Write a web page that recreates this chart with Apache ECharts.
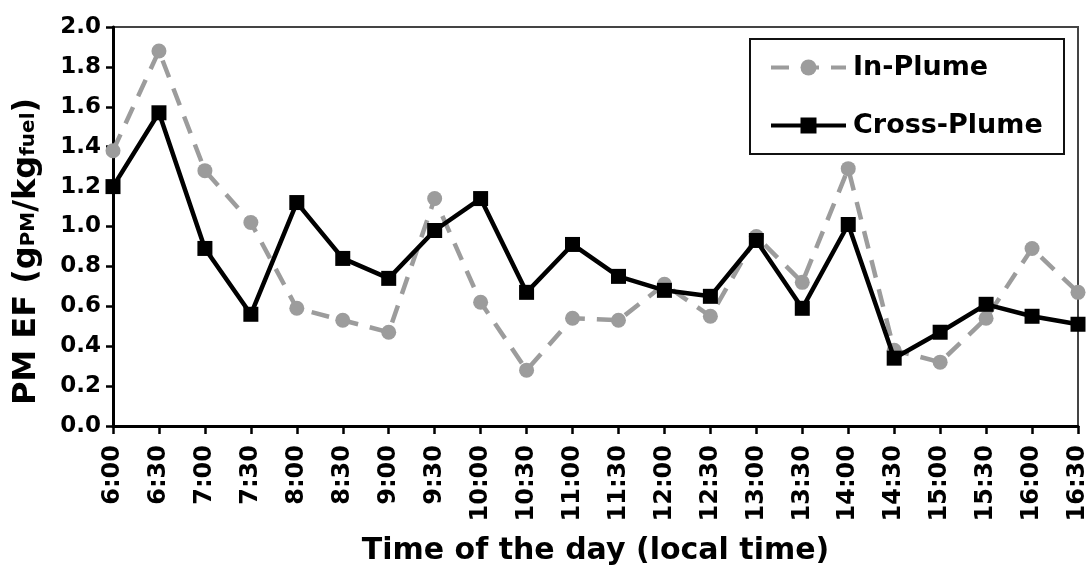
<!DOCTYPE html>
<html>
<head>
<meta charset="utf-8">
<script src="https://cdn.jsdelivr.net/npm/echarts@6/dist/echarts.min.js"></script>
<style>
html,body{margin:0;padding:0;background:#fff;}
#chart{width:1090px;height:577px;}
</style>
</head>
<body>
<div id="chart"></div>
<script>
const categories = ['6:00','6:30','7:00','7:30','8:00','8:30','9:00','9:30','10:00','10:30','11:00','11:30','12:00','12:30','13:00','13:30','14:00','14:30','15:00','15:30','16:00','16:30'];
const inPlume = [1.38, 1.88, 1.28, 1.02, 0.59, 0.53, 0.47, 1.14, 0.62, 0.28, 0.54, 0.53, 0.71, 0.55, 0.95, 0.72, 1.29, 0.38, 0.32, 0.54, 0.89, 0.67];
const crossPlume = [1.20, 1.57, 0.89, 0.56, 1.12, 0.84, 0.74, 0.98, 1.14, 0.67, 0.91, 0.75, 0.68, 0.65, 0.93, 0.59, 1.01, 0.34, 0.47, 0.61, 0.55, 0.51];
const seriesNames = ['In-Plume', 'Cross-Plume'];
const xTitle = 'Time of the day (local time)';
const yTitle = '{a|PM EF (g}{s|PM}{a|/kg}{s|fuel}{a|)}';

const FONT = 'DejaVu Sans';
const chart = echarts.init(document.getElementById('chart'), null, {renderer: 'canvas'});
chart.setOption({
  animation: false,
  backgroundColor: '#fff',
  grid: {left: 113, right: 9, top: 27, bottom: 151, show: true, borderColor: '#444', borderWidth: 2, containLabel: false},
  legend: {
    orient: 'vertical',
    left: 769, top: 54,
    padding: 0,
    itemWidth: 75, itemHeight: 20,
    itemGap: 31,
    textStyle: {fontFamily: FONT, fontWeight: 'bold', fontSize: 27, color: '#000', padding: [0,0,0,2]},
    data: [
      {name: seriesNames[0], lineStyle: {width: 4, color: '#9c9c9c', type: [18, 12]}},
      {name: seriesNames[1], lineStyle: {width: 4, color: '#000'}}
    ]
  },
  graphic: [{
    type: 'rect', left: 749, top: 38, z: 0,
    shape: {width: 314, height: 115},
    style: {fill: '#fff', stroke: '#111', lineWidth: 2}
  }],
  xAxis: {
    type: 'category',
    data: categories,
    boundaryGap: false,
    name: xTitle,
    nameLocation: 'middle',
    nameGap: 110,
    nameTextStyle: {fontFamily: FONT, fontWeight: 'bold', fontSize: 30, color: '#000'},
    axisLine: {lineStyle: {color: '#000', width: 3}},
    axisTick: {show: true, length: 8, lineStyle: {color: '#000', width: 2.5}, alignWithLabel: true},
    axisLabel: {rotate: 90, margin: 19, fontFamily: FONT, fontWeight: 'bold', fontSize: 24, color: '#000', interval: 0},
    splitLine: {show: false}
  },
  yAxis: {
    type: 'value',
    min: 0, max: 2, interval: 0.2,
    name: yTitle,
    nameLocation: 'middle',
    nameGap: 70,
    nameTextStyle: {
      padding: [0, 50, 0, 0],
      rich: {
        a: {fontFamily: FONT, fontWeight: 'bold', fontSize: 32, color: '#000'},
        s: {fontFamily: FONT, fontWeight: 'bold', fontSize: 20, color: '#000', padding: [0,0,-4,0]}
      }
    },
    axisLine: {show: true, lineStyle: {color: '#000', width: 3}},
    axisTick: {show: true, length: 7, lineStyle: {color: '#000', width: 2.5}},
    axisLabel: {margin: 12, fontFamily: FONT, fontWeight: 'bold', fontSize: 23, color: '#000', formatter: v => v.toFixed(1)},
    splitLine: {show: false}
  },
  series: [
    {
      name: seriesNames[0], type: 'line', data: inPlume, z: 2,
      symbol: 'circle', symbolSize: 15,
      itemStyle: {color: '#9c9c9c'},
      lineStyle: {color: '#9c9c9c', width: 4.5, type: [18, 12]}
    },
    {
      name: seriesNames[1], type: 'line', data: crossPlume, z: 3,
      symbol: 'rect', symbolSize: 15,
      itemStyle: {color: '#000'},
      lineStyle: {color: '#000', width: 4.5}
    }
  ]
});
</script>
</body>
</html>
